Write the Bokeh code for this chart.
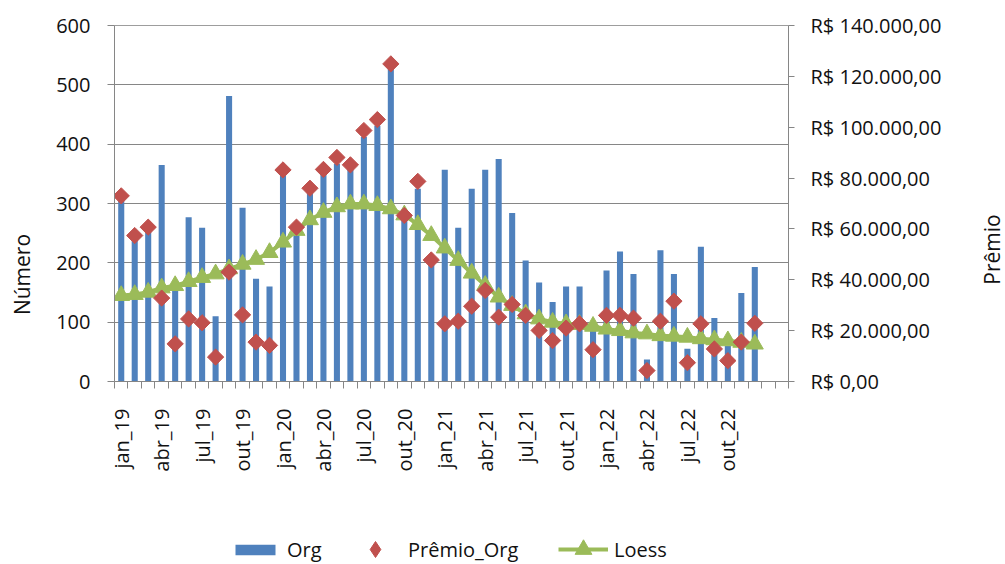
import math
from bokeh.plotting import figure
from bokeh.layouts import row, column
from bokeh.models import (Range1d, LinearAxis, FixedTicker, Span, Label,
                          Legend, LegendItem, ColumnDataSource, Grid)
from bokeh.embed import file_html
from bokeh.resources import INLINE

# ---------------- data ----------------
months = ["jan_19", "fev_19", "mar_19", "abr_19", "mai_19", "jun_19", "jul_19", "ago_19", "set_19", "out_19", "nov_19", "dez_19",
          "jan_20", "fev_20", "mar_20", "abr_20", "mai_20", "jun_20", "jul_20", "ago_20", "set_20", "out_20", "nov_20", "dez_20",
          "jan_21", "fev_21", "mar_21", "abr_21", "mai_21", "jun_21", "jul_21", "ago_21", "set_21", "out_21", "nov_21", "dez_21",
          "jan_22", "fev_22", "mar_22", "abr_22", "mai_22", "jun_22", "jul_22", "ago_22", "set_22", "out_22", "nov_22", "dez_22"]
n_empty_after = 2  # two empty categories at the end of the axis

org = [305, 249, 260, 365, 155, 277, 259, 110, 481, 293, 173, 160,
       357, 255, 325, 358, 367, 365, 412, 431, 527, 280, 325, 205,
       357, 259, 325, 357, 375, 284, 204, 167, 134, 160, 160, 85,
       187, 219, 181, 37, 221, 181, 55, 227, 107, 60, 149, 193]

premio_org = [73000, 57400, 60700, 32800, 14800, 24600, 23100, 9600, 43000, 26200, 15500, 14200,
              83200, 60700, 76000, 83400, 88100, 85200, 98700, 103000, 124900, 65300, 78700, 47800,
              22700, 23700, 29600, 35800, 25300, 30300, 26000, 20100, 16100, 21000, 22700, 12500,
              26000, 26000, 24900, 4300, 23700, 31600, 7400, 22700, 12800, 8200, 15500, 22900]

loess = [33800, 34200, 35100, 36800, 37700, 39300, 40900, 42300, 44300, 46100, 48000, 50700,
         54800, 59400, 63600, 66500, 68700, 69800, 69800, 69200, 67900, 65500, 61700, 57400,
         52500, 47600, 42600, 37800, 33200, 29900, 26600, 24600, 23300, 22700, 22400, 21700,
         20600, 20000, 19100, 18700, 18000, 17800, 17400, 16800, 16400, 16000, 15400, 14700]

left_ticks = [0, 100, 200, 300, 400, 500, 600]
right_ticks = [0, 20000, 40000, 60000, 80000, 100000, 120000, 140000]
right_tick_labels = ["R$ 0,00", "R$ 20.000,00", "R$ 40.000,00", "R$ 60.000,00",
                     "R$ 80.000,00", "R$ 100.000,00", "R$ 120.000,00", "R$ 140.000,00"]
label_every = 3
series_names = ["Org", "Prêmio_Org", "Loess"]
left_title = "Número"
right_title = "Prêmio"

# ---------------- styles / layout ----------------
FONT = "Open Sans"
BLUE = "#4F81BD"
RED = "#C0504D"
GREEN = "#9BBB59"
AXIS_GRAY = "#868686"
TXT = "#111111"
MAIN_H = 530
TOP, BOTTOM = 25, 149          # main plot borders (frame spans page y 25..381)


def blank_fig(w, h, top=0, bottom=0, y_range=None):
    f = figure(width=w, height=h, x_range=Range1d(0, w),
               y_range=y_range if y_range is not None else Range1d(0, h),
               output_backend="svg", toolbar_location=None,
               x_axis_location=None, y_axis_location=None,
               min_border=0, min_border_left=0, min_border_right=0,
               min_border_top=top, min_border_bottom=bottom)
    f.outline_line_color = None
    f.border_fill_color = "white"
    f.background_fill_color = "white"
    for g in list(f.center):
        if isinstance(g, Grid):
            g.visible = False
    return f


n_cats = len(months) + n_empty_after
xpos = [i + 0.5 for i in range(len(months))]  # category centres
src = ColumnDataSource(dict(x=xpos, m=months, org=org, premio=premio_org, loess=loess))

p = figure(width=935, height=MAIN_H, x_range=Range1d(0, n_cats),
           y_range=Range1d(0, 600), output_backend="svg", toolbar_location=None,
           x_axis_location=None, y_axis_location=None,
           min_border_left=74, min_border_right=187, min_border_top=TOP, min_border_bottom=BOTTOM)
p.extra_y_ranges = {"premio": Range1d(0, 140000)}
p.outline_line_color = None
p.background_fill_color = "white"
p.border_fill_color = "white"
for g in list(p.center):
    if isinstance(g, Grid):
        g.visible = False

# horizontal gridlines (left axis)
p.add_layout(Grid(dimension=1, ticker=FixedTicker(ticks=left_ticks[1:-1]),
                  grid_line_color=AXIS_GRAY, grid_line_width=1))
p.add_layout(Span(location=left_ticks[-1], dimension="width", line_color="#3c3c3c", line_width=1.2))

# left axis
yl = LinearAxis(ticker=FixedTicker(ticks=left_ticks), axis_line_color=AXIS_GRAY,
                major_tick_line_color=AXIS_GRAY, major_tick_out=7, major_tick_in=0,
                minor_tick_line_color=None, major_label_standoff=17,
                major_label_text_font=FONT, major_label_text_font_size="20px",
                major_label_text_color=TXT)
p.add_layout(yl, "left")

# right axis
yr = LinearAxis(y_range_name="premio", ticker=FixedTicker(ticks=right_ticks),
                major_label_overrides={t: s for t, s in zip(right_ticks, right_tick_labels)},
                axis_line_color=AXIS_GRAY, major_tick_line_color=AXIS_GRAY,
                major_tick_out=6, major_tick_in=0, minor_tick_line_color=None,
                major_label_standoff=16, major_label_text_font=FONT,
                major_label_text_font_size="20px", major_label_text_color=TXT)
p.add_layout(yr, "right")

# bottom axis: ticks between categories, labels every 3rd month
label_idx = list(range(0, len(months), label_every))
xa = LinearAxis(ticker=FixedTicker(ticks=[xpos[i] for i in label_idx],
                                   minor_ticks=list(range(0, n_cats + 1))),
                major_label_overrides={xpos[i]: months[i] for i in label_idx},
                axis_line_color=AXIS_GRAY, major_tick_line_color=None, major_tick_out=0,
                major_tick_in=0, minor_tick_line_color=AXIS_GRAY, minor_tick_out=7, minor_tick_in=0,
                major_label_orientation=math.pi / 2, major_label_standoff=20,
                major_label_text_font=FONT, major_label_text_font_size="20px",
                major_label_text_color=TXT)
p.add_layout(xa, "below")

# glyphs
bar_style = dict(fill_color=BLUE, line_color=None)
line_style = dict(line_color=GREEN, line_width=4)
tri_style = dict(marker="triangle", size=17, fill_color=GREEN, line_color=GREEN)
dia_style = dict(marker="square", angle=math.pi / 4, size=11.5, fill_color=RED, line_color=RED)

p.vbar(x="x", top="org", width=0.45, source=src, **bar_style)
p.line(x="x", y="loess", source=src, y_range_name="premio", **line_style)
p.scatter(x="x", y="loess", source=src, y_range_name="premio", **tri_style)
p.scatter(x="x", y="premio", source=src, y_range_name="premio", **dia_style)

# title strips: y range expressed in page pixels from the top (frame = page y 25..381)
frame_bottom_px = MAIN_H - BOTTOM
lt = blank_fig(40, MAIN_H, TOP, BOTTOM, Range1d(frame_bottom_px, TOP))
lt.add_layout(Label(x=21, y=274, text=left_title, angle=math.pi / 2, text_align="center",
                    text_baseline="middle", text_font=FONT, text_font_size="21px", text_color=TXT))

rt = blank_fig(30, MAIN_H, TOP, BOTTOM, Range1d(frame_bottom_px, TOP))
rt.add_layout(Label(x=16, y=249, text=right_title, angle=math.pi / 2, text_align="center",
                    text_baseline="middle", text_font=FONT, text_font_size="21px", text_color=TXT))

# legend strip: one legend per entry so that each glyph gets its own box height
lf = blank_fig(1005, 34)
nan = float("nan")
proxy = ColumnDataSource(dict(x=[nan], y=[nan]))
r_bar = lf.vbar(x="x", top="y", width=1, source=proxy, **bar_style)
r_dia = lf.scatter(x="x", y="y", source=proxy, marker="diamond", size=11.5,
                   fill_color=RED, line_color=RED)
r_line = lf.line(x="x", y="y", source=proxy, **line_style)
r_tri = lf.scatter(x="x", y="y", source=proxy, **tri_style)

LEG_CENTER = 15  # legend centre line, px above the bottom of the strip


def add_leg(label, rends, x, glyph_h, standoff, box_h):
    leg = Legend(items=[LegendItem(label=label, renderers=rends)],
                 location=(x, LEG_CENTER - box_h / 2), orientation="horizontal",
                 glyph_width=50, glyph_height=glyph_h, label_standoff=standoff,
                 padding=0, margin=0, border_line_color=None, background_fill_alpha=0,
                 label_text_font=FONT, label_text_font_size="20px", label_text_color=TXT)
    lf.add_layout(leg, "center")


add_leg(series_names[0], [r_bar], 230, 13, 7, 28)
add_leg(series_names[1], [r_dia], 350, 40, 8, 40)
add_leg(series_names[2], [r_line, r_tri], 558, 42, 6, 42)

layout = column(row(lt, p, rt, spacing=0), lf, spacing=0)
open("out.html", "w").write(file_html(layout, INLINE))
